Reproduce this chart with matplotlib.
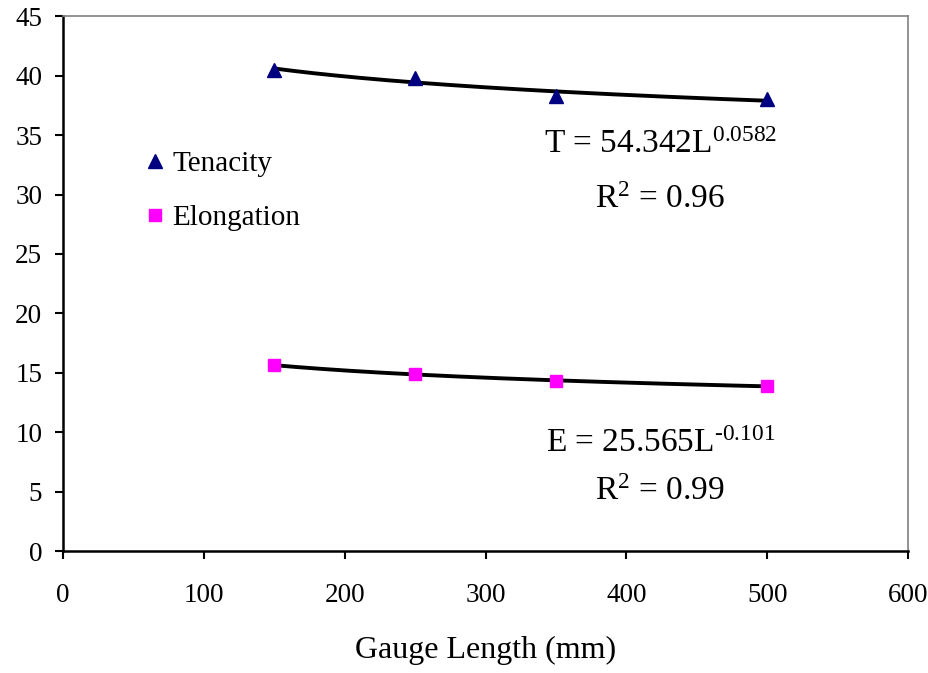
import numpy as np
import matplotlib
matplotlib.use('Agg')
import matplotlib.pyplot as plt

plt.rcParams['font.family'] = ['Liberation Serif', 'DejaVu Serif']
plt.rcParams['mathtext.fontset'] = 'custom'
plt.rcParams['mathtext.rm'] = 'Liberation Serif'
plt.rcParams['mathtext.it'] = 'Liberation Serif'

# data
gauge_length = [150, 250, 350, 500]
tenacity = [40.5, 39.8, 38.3, 38.0]
elongation = [15.65, 14.9, 14.3, 13.9]

tenacity_eq = r'T = 54.342L$^{0.0582}$'
tenacity_r2 = r'R$^{2}$ = 0.96'
elongation_eq = 'E = 25.565L$^{\u2010 0.101}$'
elongation_r2 = r'R$^{2}$ = 0.99'

fig = plt.figure(figsize=(9.29, 6.73), dpi=100)
ax = fig.add_axes([0.068, 0.181, 0.9094, 0.7949])

# power-law trendlines fitted to the points (log-log least squares)
L = np.linspace(gauge_length[0], gauge_length[-1], 200)
for y in (tenacity, elongation):
    b, a = np.polyfit(np.log(gauge_length), np.log(y), 1)
    ax.plot(L, np.exp(a) * L ** b, color='black', linewidth=2.8, zorder=2)

ax.plot(gauge_length, tenacity, linestyle='none', marker='^', markersize=10,
        color='#000080', label='Tenacity', zorder=3)
ax.plot(gauge_length, elongation, linestyle='none', marker='s', markersize=8,
        color='#FF00FF', label='Elongation', zorder=3)

ax.text(424, 34.2, tenacity_eq, fontsize=24, ha='center', va='center')
ax.text(424, 29.6, tenacity_r2, fontsize=24, ha='center', va='center')
ax.text(424, 9.0, elongation_eq, fontsize=24, ha='center', va='center')
ax.text(424, 5.0, elongation_r2, fontsize=24, ha='center', va='center')

ax.set_xlim(0, 600)
ax.set_ylim(0, 45)
ax.set_xticks(range(0, 601, 100))
ax.set_yticks(range(0, 46, 5))
ax.tick_params(direction='out', length=6, width=1.5, labelsize=19.5)
ax.tick_params(axis='x', pad=17)
ax.tick_params(axis='y', pad=9)
ax.set_xlabel('Gauge Length (mm)', fontsize=23, labelpad=20)

for side in ('left', 'bottom'):
    ax.spines[side].set_color('black')
    ax.spines[side].set_linewidth(1.8)
for side in ('top', 'right'):
    ax.spines[side].set_color('#808080')
    ax.spines[side].set_linewidth(1.2)

ax.legend(loc='upper left', bbox_to_anchor=(0.06, 0.798), frameon=False,
          fontsize=21, handletextpad=0.1, labelspacing=0.95, handlelength=1.0)

fig.savefig('out.png', dpi=100)
